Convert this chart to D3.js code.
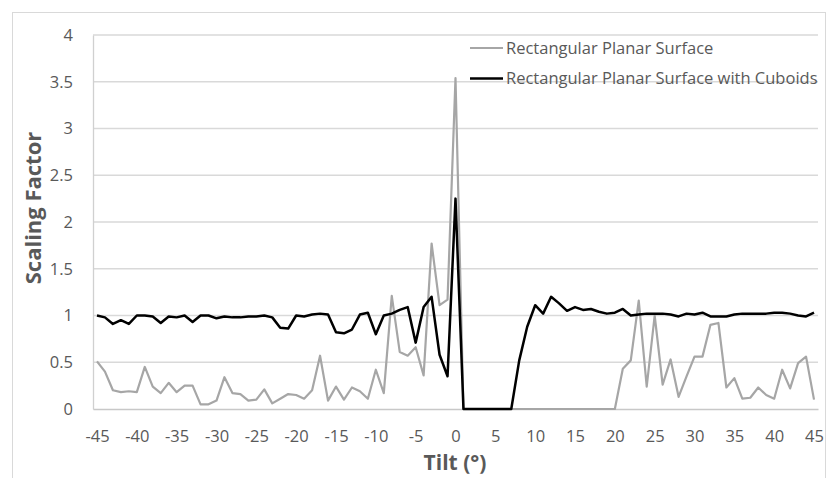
<!DOCTYPE html>
<html><head><meta charset="utf-8">
<script src="https://cdn.jsdelivr.net/npm/d3@7"></script>
<style>body{margin:0;background:#fff}svg{display:block}</style>
</head><body>
<svg id="c" width="834" height="478"></svg>
<script>
const tilts = d3.range(-45, 46);
const planar = [
 0.51,0.40,0.20,0.18,0.19,0.18,0.45,0.24,0.17,0.28,
 0.18,0.25,0.25,0.05,0.05,0.09,0.34,0.17,0.16,0.09,
 0.10,0.21,0.06,0.11,0.16,0.15,0.11,0.20,0.57,0.09,
 0.24,0.10,0.23,0.19,0.11,0.42,0.17,1.21,0.61,0.57,
 0.66,0.36,1.77,1.11,1.17,3.54,0,0,0,0,
 0,0,0,0,0,0,0,0,0,0,
 0,0,0,0,0,0,0.43,0.52,1.16,0.24,
 1.00,0.26,0.53,0.13,0.35,0.56,0.56,0.90,0.92,0.23,
 0.33,0.11,0.12,0.23,0.15,0.11,0.42,0.22,0.49,0.56,0.10
];
const cuboids = [
 1.00,0.98,0.91,0.95,0.91,1.00,1.00,0.99,0.92,0.99,
 0.98,1.00,0.93,1.00,1.00,0.97,0.99,0.98,0.98,0.99,
 0.99,1.00,0.98,0.87,0.86,1.00,0.99,1.01,1.02,1.01,
 0.82,0.81,0.85,1.01,1.03,0.80,1.00,1.02,1.06,1.09,
 0.71,1.09,1.20,0.58,0.35,2.25,0,0,0,0,
 0,0,0,0.52,0.88,1.11,1.02,1.20,1.13,1.05,
 1.09,1.06,1.07,1.04,1.02,1.03,1.07,1.00,1.01,1.02,
 1.02,1.02,1.01,0.99,1.02,1.01,1.03,0.99,0.99,0.99,
 1.01,1.02,1.02,1.02,1.02,1.03,1.03,1.02,1.00,0.99,1.03
];
const yTicks = [0,0.5,1,1.5,2,2.5,3,3.5,4];
const xTickLabels = d3.range(-45, 46, 5);
const seriesNames = ["Rectangular Planar Surface","Rectangular Planar Surface with Cuboids"];
const seriesColors = ["#a6a6a6","#000000"];

const svg = d3.select("#c");
const L = 93, R = 818, T = 35, B = 409;
const x = d3.scalePoint().domain(tilts).range([L, R]).padding(0.5);
const y = d3.scaleLinear().domain([0,4]).range([B, T]);
const font = "'Open Sans', 'Liberation Sans', sans-serif";

// outer border
svg.append("rect").attr("x",12.5).attr("y",12.5).attr("width",813).attr("height",480)
  .attr("fill","none").attr("stroke","#d9d9d9");

// grid
svg.append("g").selectAll("line").data(yTicks.filter(d=>d>0)).join("line")
  .attr("x1",L).attr("x2",R).attr("y1",d=>y(d)).attr("y2",d=>y(d))
  .attr("stroke","#d9d9d9").attr("stroke-width",1.3);

// y axis
const ya = svg.append("g").attr("transform",`translate(${L},0)`)
  .call(d3.axisLeft(y).tickValues(yTicks).tickSize(0).tickPadding(20).tickFormat(d3.format("")));
ya.select(".domain").attr("stroke","#d0d0d0").attr("stroke-width",1.3);
ya.selectAll("text").attr("font-family",font).attr("font-size",16.5).attr("fill","#595959");

// x axis
const xa = svg.append("g").attr("transform",`translate(0,${B})`)
  .call(d3.axisBottom(x).tickValues(xTickLabels).tickSize(0).tickPadding(21));
xa.select(".domain").attr("stroke","#c8c8c8").attr("stroke-width",1.5);
xa.selectAll("text").attr("font-family",font).attr("font-size",16.5).attr("fill","#595959");

// lines
const line = d3.line().x((d,i)=>x(tilts[i])).y(d=>y(d));
svg.append("path").datum(planar).attr("d",line).attr("fill","none")
  .attr("stroke",seriesColors[0]).attr("stroke-width",2.2).attr("stroke-linejoin","round");
svg.append("path").datum(cuboids).attr("d",line).attr("fill","none")
  .attr("stroke",seriesColors[1]).attr("stroke-width",2.5).attr("stroke-linejoin","round");

// axis titles
svg.append("text").attr("x",455).attr("y",470).attr("text-anchor","middle")
  .attr("font-family",font).attr("font-weight","bold").attr("font-size",21).attr("fill","#595959").text("Tilt (°)");
svg.append("text").attr("transform","translate(41,208) rotate(-90)").attr("text-anchor","middle")
  .attr("font-family",font).attr("font-weight","bold").attr("font-size",22).attr("fill","#595959").text("Scaling Factor");

// legend
const lg = svg.append("g");
seriesNames.forEach((n,i)=>{
  const yy = 48 + i*30.5;
  lg.append("line").attr("x1",470).attr("x2",503).attr("y1",yy).attr("y2",yy)
    .attr("stroke",seriesColors[i]).attr("stroke-width",i? 2.5:2.2);
  lg.append("text").attr("x",506).attr("y",yy).attr("dy","0.35em")
    .attr("font-family",font).attr("font-size",16.5).attr("fill","#595959").text(n);
});
</script>
</body></html>
